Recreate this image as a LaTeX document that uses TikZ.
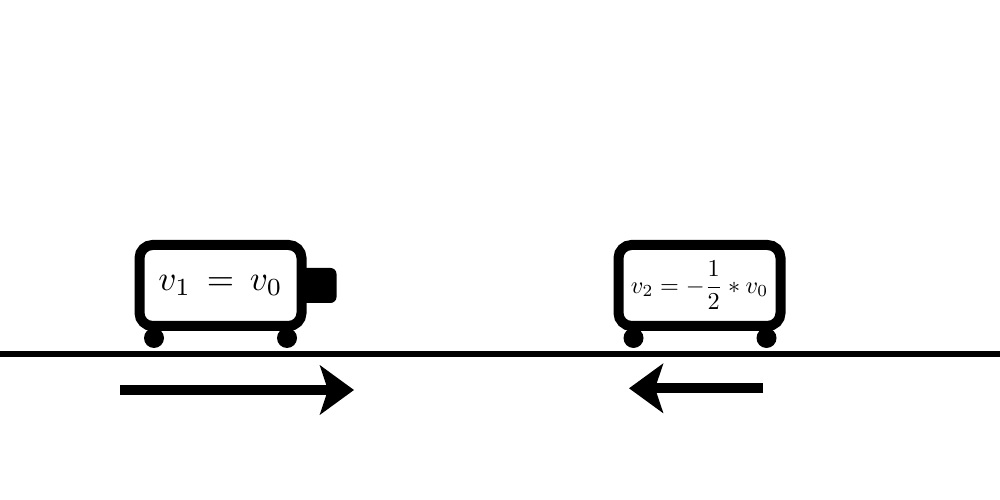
\documentclass[tikz,border=0pt]{standalone}
\usepackage{amsmath, amssymb}
\usepackage{tikz}
\usetikzlibrary{arrows.meta}

\begin{document}
\begin{tikzpicture}[>={Stealth[length=0.34cm, width=0.49cm, inset=0.08cm]},
    cart/.style={draw, fill=white, line width=0.1cm, rounded corners=0.13cm, minimum width=1.62cm, minimum height=0.81cm, inner sep=0pt},
    nozzle/.style={fill=black, rounded corners=0.06cm, minimum width=0.4cm, minimum height=0.35cm, inner sep=0pt},
    wheel/.style={circle, fill=black, minimum size=0.2cm, inner sep=0pt},
    motion/.style={->, line width=0.1cm}]
    \useasboundingbox (0,0) rectangle (10,5);

    % 1. Mặt đường
    \coordinate (roadL) at (0,1.46);
    \coordinate (roadR) at (10,1.46);
    \draw[line width=0.06cm] (roadL) -- (roadR);

    % 2. Xe thứ nhất
    \node[nozzle] (nozzleA) at (3.165,2.145) {};
    \foreach \x/\name in {1.54/wheelAa, 2.87/wheelAb} {
        \node[wheel] (\name) at (\x,1.62) {};
    }
    \node[cart] (cartA) at (2.205,2.145) {$v_1\,=\,v_0$};

    % 3. Xe thứ hai
    \foreach \x/\name in {6.335/wheelBa, 7.665/wheelBb} {
        \node[wheel] (\name) at (\x,1.62) {};
    }
    \node[cart] (cartB) at (6.995,2.145) {\scalebox{0.69}{$\displaystyle v_2=-\frac{1}{2}*v_0$}};

    % 4. Mũi tên vận tốc
    \coordinate (startA) at (1.2,1.1);
    \coordinate (endA) at (3.54,1.1);
    \draw[motion] (startA) -- (endA);
    \coordinate (startB) at (7.63,1.117);
    \coordinate (endB) at (6.29,1.117);
    \draw[motion] (startB) -- (endB);
\end{tikzpicture}
\end{document}
